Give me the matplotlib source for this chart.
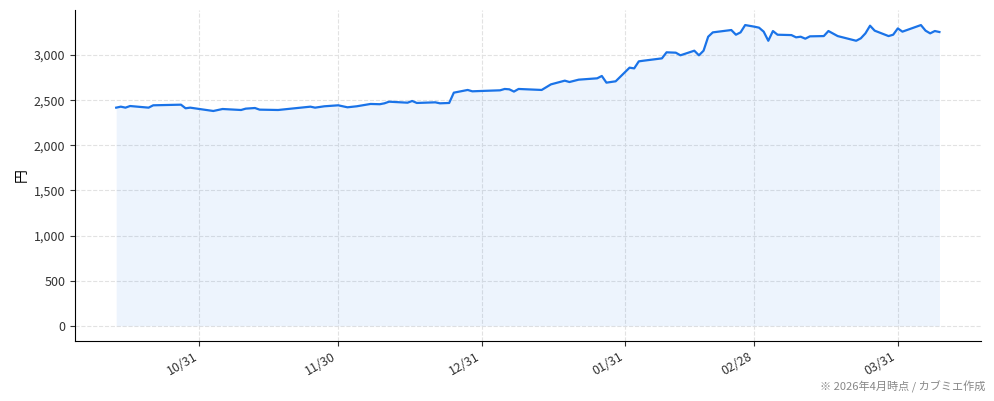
import matplotlib
matplotlib.use("Agg")
import matplotlib.pyplot as plt
import matplotlib.dates as mdates
import matplotlib.ticker as mticker
import pandas as pd

plt.rcParams['font.family'] = ['Noto Sans CJK JP', 'DejaVu Sans']

# 株価データ（チャートから読み取り）
dates = ['2025-10-13', '2025-10-14', '2025-10-15', '2025-10-16', '2025-10-20', '2025-10-21',
         '2025-10-27', '2025-10-28', '2025-10-29', '2025-10-31', '2025-11-03', '2025-11-05',
         '2025-11-09', '2025-11-10', '2025-11-12', '2025-11-13', '2025-11-17', '2025-11-24',
         '2025-11-25', '2025-11-27', '2025-11-30', '2025-12-02', '2025-12-04', '2025-12-07',
         '2025-12-09', '2025-12-10', '2025-12-11', '2025-12-15', '2025-12-16', '2025-12-17',
         '2025-12-21', '2025-12-22', '2025-12-24', '2025-12-25', '2025-12-28', '2025-12-29',
         '2025-12-31', '2026-01-04', '2026-01-05', '2026-01-06', '2026-01-07', '2026-01-08',
         '2026-01-13', '2026-01-15', '2026-01-18', '2026-01-19', '2026-01-21', '2026-01-25',
         '2026-01-26', '2026-01-27', '2026-01-29', '2026-02-01', '2026-02-02', '2026-02-03',
         '2026-02-04', '2026-02-08', '2026-02-09', '2026-02-11', '2026-02-12', '2026-02-15',
         '2026-02-16', '2026-02-17', '2026-02-18', '2026-02-19', '2026-02-23', '2026-02-24',
         '2026-02-25', '2026-02-26', '2026-02-28', '2026-03-01', '2026-03-02', '2026-03-03',
         '2026-03-04', '2026-03-05', '2026-03-08', '2026-03-09', '2026-03-10', '2026-03-11',
         '2026-03-12', '2026-03-15', '2026-03-16', '2026-03-18', '2026-03-22', '2026-03-23',
         '2026-03-24', '2026-03-25', '2026-03-26', '2026-03-29', '2026-03-30', '2026-03-31',
         '2026-04-01', '2026-04-05', '2026-04-06', '2026-04-07', '2026-04-08', '2026-04-09']
prices = [2417, 2428, 2417, 2435, 2417, 2443,
          2450, 2410, 2417, 2402, 2380, 2402,
          2391, 2406, 2413, 2395, 2391, 2428,
          2417, 2432, 2443, 2421, 2432, 2458,
          2455, 2465, 2483, 2472, 2491, 2469,
          2476, 2465, 2469, 2583, 2613, 2598,
          2602, 2609, 2624, 2620, 2595, 2624,
          2613, 2675, 2716, 2701, 2727, 2742,
          2768, 2694, 2709, 2860, 2852, 2930,
          2937, 2963, 3030, 3026, 2997, 3048,
          2997, 3048, 3203, 3251, 3277, 3225,
          3251, 3332, 3314, 3303, 3259, 3158,
          3266, 3225, 3221, 3196, 3203, 3181,
          3207, 3210, 3266, 3210, 3158, 3185,
          3240, 3325, 3270, 3210, 3225, 3295,
          3259, 3332, 3270, 3240, 3266, 3255]

x = pd.to_datetime(dates)

fig = plt.figure(figsize=(9.94, 4.01), dpi=100)
ax = fig.add_axes([0.0755, 0.150, 0.911, 0.825])

ax.plot(x, prices, color='#1a73e8', linewidth=1.6)
ax.fill_between(x, prices, 0, color='#1a73e8', alpha=0.08, linewidth=0)

tick_dates = pd.to_datetime(['2025-10-31', '2025-11-30', '2025-12-31',
                             '2026-01-31', '2026-02-28', '2026-03-31'])
ax.set_xticks(tick_dates)
ax.xaxis.set_major_formatter(mdates.DateFormatter('%m/%d'))
plt.setp(ax.get_xticklabels(), rotation=30, ha='right')
ax.yaxis.set_major_formatter(mticker.FuncFormatter(lambda v, p: f'{int(v):,}'))
ax.set_ylabel('円', fontsize=10)

ax.tick_params(labelsize=9, colors='#333333')
ax.grid(True, linestyle='--', color='#e2e2e2', linewidth=0.8)
ax.set_axisbelow(True)
ax.spines['top'].set_visible(False)
ax.spines['right'].set_visible(False)

fig.text(0.991, 0.02, '※ 2026年4月時点 / カブミエ作成', ha='right', va='bottom',
         fontsize=8, color='#888888')

fig.savefig('out.png', dpi=100)
